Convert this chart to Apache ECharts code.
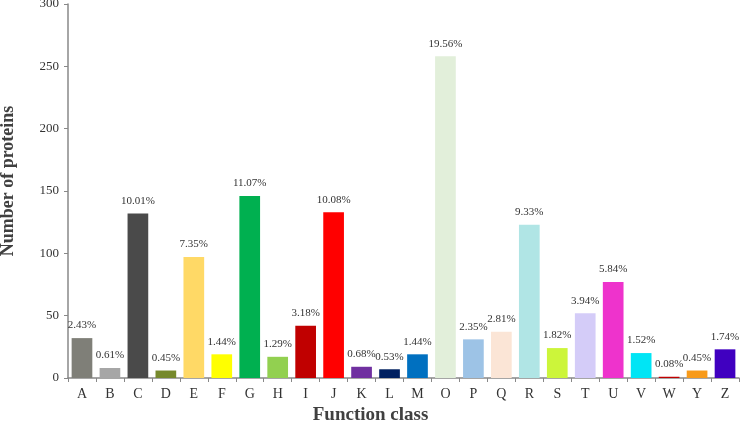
<!DOCTYPE html>
<html>
<head>
<meta charset="utf-8">
<script src="https://cdn.jsdelivr.net/npm/echarts@6/dist/echarts.min.js"></script>
<style>
  html, body { margin: 0; padding: 0; background: #fff; }
  #chart { width: 740px; height: 422px; }
</style>
</head>
<body>
<div id="chart"></div>
<script>
// COG function classes
var categories = ["A","B","C","D","E","F","G","H","I","J","K","L","M","O","P","Q","R","S","T","U","V","W","Y","Z"];
var counts = [32, 8, 132, 6, 97, 19, 146, 17, 42, 133, 9, 7, 19, 258, 31, 37, 123, 24, 52, 77, 20, 1, 6, 23];
var percents = ["2.43%","0.61%","10.01%","0.45%","7.35%","1.44%","11.07%","1.29%","3.18%","10.08%","0.68%","0.53%","1.44%",
                "19.56%","2.35%","2.81%","9.33%","1.82%","3.94%","5.84%","1.52%","0.08%","0.45%","1.74%"];
var colors = ["#7f7f78","#a6a6a6","#4a4a4a","#76892c","#ffd966","#ffff00","#00b050","#92d050","#c00000","#ff0000","#7030a0","#002060","#0070c0",
              "#e2efda","#9dc3e6","#fbe5d6","#b0e5e5","#ccf53a","#d4ccf8","#ee33cc","#00e5f5","#c00000","#f79a1a","#4000c0"];

var font = "Liberation Serif";

var myChart = echarts.init(document.getElementById('chart'));

var option = {
    animation: false,
    grid: { left: 68, right: 1, top: 4, bottom: 44, containLabel: false, outerBoundsMode: 'none' },
    xAxis: {
        type: 'category',
        data: categories,
        axisLine: { lineStyle: { color: '#888', width: 1.5 } },
        axisTick: { show: true, alignWithLabel: false, length: 4, lineStyle: { color: '#888' } },
        axisLabel: { color: '#333', fontFamily: font, fontSize: 14, margin: 9 },
        name: 'Function class',
        nameLocation: 'middle',
        nameGap: 27,
        nameTextStyle: { fontFamily: font, fontSize: 19, fontWeight: 'bold', color: '#404040', padding: [0, 66, 0, 0] }
    },
    yAxis: {
        type: 'value',
        min: 0,
        max: 300,
        interval: 50,
        splitLine: { show: false },
        axisLine: { show: true, lineStyle: { color: '#888', width: 1.5 } },
        axisTick: { show: true, length: 4, lineStyle: { color: '#888' } },
        axisLabel: { color: '#333', fontFamily: font, fontSize: 13, margin: 9 },
        name: 'Number of proteins',
        nameLocation: 'middle',
        nameGap: 51,
        nameTextStyle: { fontFamily: font, fontSize: 18, fontWeight: 'bold', color: '#404040', padding: [0, 0, 0, 20] }
    },
    series: [{
        type: 'bar',
        barCategoryGap: '26%',
        data: counts.map(function (v, i) {
            return { value: v, itemStyle: { color: colors[i] } };
        }),
        label: {
            show: true,
            position: 'top',
            distance: 7,
            fontFamily: font,
            fontSize: 11,
            color: '#333',
            formatter: function (p) { return percents[p.dataIndex]; }
        }
    }]
};

myChart.setOption(option);
</script>
</body>
</html>
